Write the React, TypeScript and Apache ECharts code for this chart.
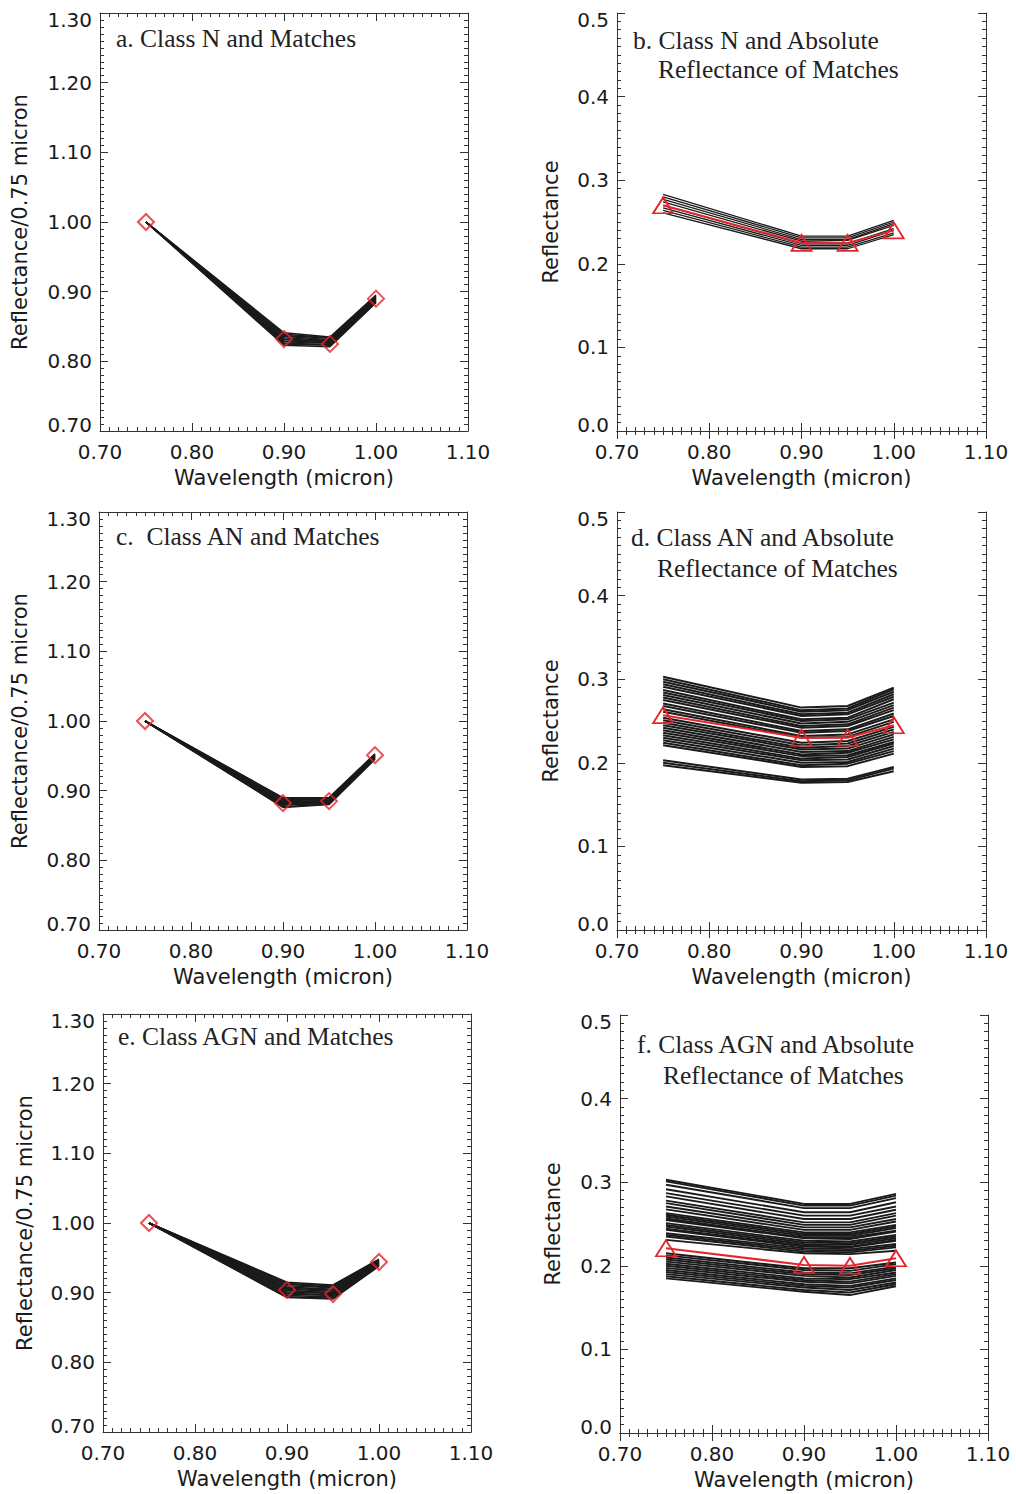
import React, { useEffect, useRef } from "react";
import * as echarts from "echarts";

const wavelengths = [0.75, 0.9, 0.95, 1.0];
const xTicks = [0.7, 0.8, 0.9, 1.0, 1.1];

// Panel a: Class N, normalised
const aLines = [
  [1.0, 0.841, 0.835, 0.895],
  [1.0, 0.839, 0.834, 0.894],
  [1.0, 0.837, 0.833, 0.893],
  [1.0, 0.836, 0.831, 0.892],
  [1.0, 0.834, 0.83, 0.891],
  [1.0, 0.832, 0.829, 0.89],
  [1.0, 0.831, 0.828, 0.889],
  [1.0, 0.829, 0.827, 0.888],
  [1.0, 0.828, 0.826, 0.887],
  [1.0, 0.826, 0.824, 0.886],
  [1.0, 0.825, 0.823, 0.885],
  [1.0, 0.823, 0.821, 0.884],
];
const aClass = [1.0, 0.832, 0.825, 0.89];

// Panel b: Class N, absolute
const bLines = [
  [0.283, 0.233, 0.233, 0.252],
  [0.28, 0.231, 0.231, 0.25],
  [0.277, 0.229, 0.229, 0.248],
  [0.274, 0.227, 0.228, 0.246],
  [0.27, 0.224, 0.224, 0.242],
  [0.267, 0.222, 0.222, 0.24],
  [0.264, 0.22, 0.22, 0.237],
  [0.261, 0.218, 0.218, 0.235],
];
const bClass = [0.27, 0.225, 0.225, 0.24];

// Panel c: Class AN, normalised
const cLines = [
  [1.0, 0.89, 0.89, 0.953],
  [1.0, 0.889, 0.889, 0.952],
  [1.0, 0.887, 0.888, 0.952],
  [1.0, 0.886, 0.887, 0.951],
  [1.0, 0.884, 0.886, 0.95],
  [1.0, 0.883, 0.885, 0.95],
  [1.0, 0.882, 0.885, 0.949],
  [1.0, 0.881, 0.884, 0.948],
  [1.0, 0.88, 0.883, 0.948],
  [1.0, 0.879, 0.882, 0.947],
  [1.0, 0.877, 0.881, 0.946],
  [1.0, 0.876, 0.88, 0.945],
];
const cClass = [1.0, 0.882, 0.885, 0.951];

// Panel d: Class AN, absolute
const dLines = [
  [0.303, 0.266, 0.268, 0.29],
  [0.3, 0.263, 0.265, 0.288],
  [0.297, 0.261, 0.263, 0.285],
  [0.294, 0.258, 0.26, 0.282],
  [0.291, 0.256, 0.258, 0.279],
  [0.287, 0.252, 0.254, 0.276],
  [0.284, 0.25, 0.252, 0.272],
  [0.281, 0.247, 0.249, 0.269],
  [0.278, 0.244, 0.246, 0.266],
  [0.275, 0.242, 0.244, 0.263],
  [0.271, 0.238, 0.24, 0.259],
  [0.268, 0.236, 0.238, 0.256],
  [0.264, 0.232, 0.234, 0.252],
  [0.261, 0.23, 0.231, 0.249],
  [0.254, 0.224, 0.226, 0.243],
  [0.251, 0.221, 0.223, 0.24],
  [0.248, 0.218, 0.22, 0.237],
  [0.245, 0.216, 0.217, 0.234],
  [0.242, 0.213, 0.214, 0.231],
  [0.239, 0.21, 0.212, 0.228],
  [0.236, 0.208, 0.209, 0.225],
  [0.233, 0.205, 0.207, 0.223],
  [0.23, 0.203, 0.204, 0.22],
  [0.227, 0.2, 0.201, 0.217],
  [0.224, 0.197, 0.199, 0.214],
  [0.221, 0.195, 0.196, 0.211],
  [0.203, 0.18, 0.181, 0.195],
  [0.2, 0.178, 0.179, 0.193],
  [0.197, 0.176, 0.177, 0.19],
];
const dClass = [0.257, 0.23, 0.23, 0.245];

// Panel e: Class AGN, normalised
const eLines = [
  [1.0, 0.915, 0.911, 0.948],
  [1.0, 0.913, 0.91, 0.947],
  [1.0, 0.912, 0.908, 0.946],
  [1.0, 0.91, 0.907, 0.946],
  [1.0, 0.908, 0.905, 0.945],
  [1.0, 0.906, 0.904, 0.944],
  [1.0, 0.905, 0.902, 0.943],
  [1.0, 0.903, 0.9, 0.943],
  [1.0, 0.901, 0.899, 0.942],
  [1.0, 0.899, 0.897, 0.941],
  [1.0, 0.898, 0.896, 0.94],
  [1.0, 0.896, 0.894, 0.94],
  [1.0, 0.894, 0.892, 0.939],
  [1.0, 0.893, 0.891, 0.938],
];
const eClass = [1.0, 0.904, 0.898, 0.944];

// Panel f: Class AGN, absolute
const fLines = [
  [0.303, 0.274, 0.274, 0.286],
  [0.301, 0.272, 0.272, 0.284],
  [0.297, 0.269, 0.269, 0.281],
  [0.2915, 0.264, 0.264, 0.276],
  [0.287, 0.26, 0.26, 0.271],
  [0.283, 0.256, 0.256, 0.267],
  [0.278, 0.252, 0.252, 0.263],
  [0.275, 0.249, 0.249, 0.26],
  [0.271, 0.246, 0.246, 0.256],
  [0.2675, 0.243, 0.243, 0.253],
  [0.263, 0.24, 0.24, 0.249],
  [0.261, 0.238, 0.238, 0.247],
  [0.259, 0.236, 0.236, 0.245],
  [0.2565, 0.234, 0.234, 0.242],
  [0.2548, 0.233, 0.232, 0.241],
  [0.251, 0.23, 0.229, 0.237],
  [0.249, 0.228, 0.227, 0.235],
  [0.247, 0.226, 0.225, 0.233],
  [0.2445, 0.224, 0.223, 0.231],
  [0.243, 0.223, 0.222, 0.23],
  [0.239, 0.221, 0.22, 0.226],
  [0.237, 0.219, 0.218, 0.224],
  [0.235, 0.217, 0.216, 0.222],
  [0.231, 0.215, 0.214, 0.218],
  [0.215, 0.197, 0.197, 0.204],
  [0.2125, 0.195, 0.194, 0.202],
  [0.21, 0.192, 0.191, 0.199],
  [0.2075, 0.19, 0.189, 0.197],
  [0.205, 0.188, 0.186, 0.195],
  [0.2025, 0.185, 0.184, 0.192],
  [0.2, 0.183, 0.181, 0.19],
  [0.1975, 0.181, 0.179, 0.188],
  [0.195, 0.178, 0.176, 0.185],
  [0.1925, 0.176, 0.174, 0.183],
  [0.19, 0.174, 0.171, 0.18],
  [0.1875, 0.171, 0.168, 0.178],
  [0.185, 0.169, 0.165, 0.1755],
];
const fClass = [0.221, 0.201, 0.2, 0.209];

const titles = [
  ["a. Class N and Matches"],
  ["b. Class N and Absolute", "Reflectance of Matches"],
  ["c.  Class AN and Matches"],
  ["d. Class AN and Absolute", "Reflectance of Matches"],
  ["e. Class AGN and Matches"],
  ["f. Class AGN and Absolute", "Reflectance of Matches"],
];
const xName = "Wavelength (micron)";
const yNameNorm = "Reflectance/0.75 micron";
const yNameAbs = "Reflectance";

const RED = "#e3262b";
const INK = "#1a1a1a";
const SANS = "DejaVu Sans";

const panels = [
  { grid: { left: 100, top: 13, width: 368, height: 418 }, norm: true, lines: aLines, cls: aClass, title: [[116, 38]], nameGap: 70, lw: 1.5 },
  { grid: { left: 617, top: 13, width: 369, height: 418 }, norm: false, lines: bLines, cls: bClass, title: [[633, 40], [658, 69]], nameGap: 56, lw: 1.3 },
  { grid: { left: 99, top: 512, width: 368, height: 418 }, norm: true, lines: cLines, cls: cClass, title: [[116, 536]], nameGap: 69, lw: 1.5 },
  { grid: { left: 617, top: 512, width: 369, height: 418 }, norm: false, lines: dLines, cls: dClass, title: [[631, 537], [657, 568]], nameGap: 56, lw: 2 },
  { grid: { left: 103, top: 1014, width: 368, height: 418 }, norm: true, lines: eLines, cls: eClass, title: [[118, 1036]], nameGap: 68, lw: 1.6 },
  { grid: { left: 620, top: 1015, width: 368, height: 418 }, norm: false, lines: fLines, cls: fClass, title: [[637, 1044], [663, 1075]], nameGap: 57, lw: 1.9 },
];

function buildOption() {
  const grid: any[] = [];
  const xAxis: any[] = [];
  const yAxis: any[] = [];
  const series: any[] = [];
  const graphic: any[] = [];
  const axisLine = { show: true, lineStyle: { color: "#333", width: 1 } };
  const axisTick = { show: true, inside: true, length: 8, lineStyle: { color: "#333", width: 1 } };
  const minorTick = { show: true, splitNumber: 10, length: 4, lineStyle: { color: "#333", width: 1 } };
  const labelStyle = { fontFamily: SANS, fontSize: 20, color: INK };
  const nameStyle = { fontFamily: SANS, fontSize: 21, color: INK };

  panels.forEach((p, i) => {
    grid.push({ ...p.grid, containLabel: false });
    const xBase = {
      type: "value",
      gridIndex: i,
      min: xTicks[0],
      max: xTicks[xTicks.length - 1],
      interval: 0.1,
      axisLine,
      axisTick,
      minorTick,
      splitLine: { show: false },
    };
    xAxis.push({
      ...xBase,
      position: "bottom",
      axisLabel: { ...labelStyle, margin: 11, formatter: (v: number) => v.toFixed(2) },
      name: xName,
      nameLocation: "middle",
      nameGap: 36,
      nameTextStyle: nameStyle,
    });
    xAxis.push({ ...xBase, position: "top", axisLabel: { show: false } });
    const yBase = p.norm
      ? { min: 0.7, max: 1.3, interval: 0.1 }
      : { min: 0, max: 0.5, interval: 0.1 };
    const yCommon = {
      type: "value",
      gridIndex: i,
      ...yBase,
      axisLine,
      axisTick,
      minorTick,
      splitLine: { show: false },
    };
    yAxis.push({
      ...yCommon,
      position: "left",
      axisLabel: {
        ...labelStyle,
        lineHeight: 13,
        margin: 8,
        verticalAlignMinLabel: "bottom",
        verticalAlignMaxLabel: "top",
        formatter: (v: number) => (p.norm ? v.toFixed(2) : v.toFixed(1)),
      },
      name: p.norm ? yNameNorm : yNameAbs,
      nameLocation: "middle",
      nameRotate: 90,
      nameGap: p.nameGap,
      nameTextStyle: nameStyle,
    });
    yAxis.push({ ...yCommon, position: "right", axisLabel: { show: false } });

    p.lines.forEach((ln) => {
      series.push({
        type: "line",
        xAxisIndex: 2 * i,
        yAxisIndex: 2 * i,
        data: wavelengths.map((w, k) => [w, ln[k]]),
        symbol: "none",
        silent: true,
        lineStyle: { color: INK, width: p.lw },
        z: 2,
      });
    });
    const clsData = wavelengths.map((w, k) => [w, p.cls[k]]);
    if (p.norm) {
      series.push({
        type: "scatter",
        xAxisIndex: 2 * i,
        yAxisIndex: 2 * i,
        data: clsData,
        symbol: "diamond",
        symbolSize: [16, 16],
        itemStyle: { color: "rgba(0,0,0,0)", borderColor: RED, borderWidth: 2 },
        z: 5,
      });
    } else {
      series.push({
        type: "line",
        xAxisIndex: 2 * i,
        yAxisIndex: 2 * i,
        data: clsData,
        symbol: "triangle",
        showSymbol: true,
        symbolSize: [20, 16],
        lineStyle: { color: RED, width: 2 },
        itemStyle: { color: "rgba(0,0,0,0)", borderColor: RED, borderWidth: 1.8 },
        z: 5,
      });
    }
    titles[i].forEach((t, k) => {
      graphic.push({
        type: "text",
        x: p.title[k][0],
        y: p.title[k][1],
        style: {
          text: t,
          font: "25.5px 'Liberation Serif'",
          fill: "#222",
          verticalAlign: "middle",
          textVerticalAlign: "middle",
        },
        z: 10,
      });
    });
  });

  return {
    animation: false,
    backgroundColor: "#ffffff",
    grid,
    xAxis,
    yAxis,
    series,
    graphic,
  };
}

export default function App() {
  const ref = useRef<HTMLDivElement>(null);
  useEffect(() => {
    if (!ref.current) return;
    const chart = echarts.init(ref.current, undefined, { renderer: "svg" });
    chart.setOption(buildOption() as any);
    return () => chart.dispose();
  }, []);
  return (
    <div
      ref={ref}
      style={{ position: "absolute", left: 0, top: 0, width: 1016, height: 1494, background: "#fff" }}
    />
  );
}
